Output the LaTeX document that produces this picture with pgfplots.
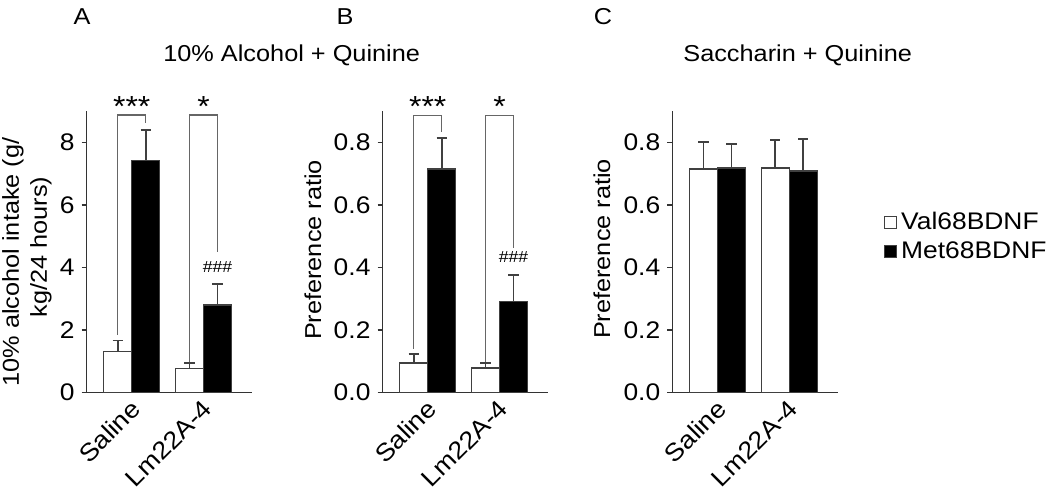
\documentclass[border=0pt]{standalone}
\usepackage{pgfplots}
\pgfplotsset{compat=1.18}
\usepackage{pgfplotstable}
\usepackage{fontspec}
\setmainfont{Liberation Sans}[FakeStretch=1.1]

% columns: x, mean, upper error
\pgfplotstableread{
x y e
-0.195 1.30 0.36
0.805 0.76 0.17
}\Awhite
\pgfplotstableread{
x y e
0.195 7.42 0.98
1.195 2.80 0.67
}\Ablack
\pgfplotstableread{
x y e
-0.195 0.093 0.029
0.805 0.077 0.016
}\Bwhite
\pgfplotstableread{
x y e
0.195 0.714 0.099
1.195 0.290 0.085
}\Bblack
\pgfplotstableread{
x y e
-0.195 0.714 0.086
0.805 0.717 0.090
}\Cwhite
\pgfplotstableread{
x y e
0.195 0.717 0.078
1.195 0.708 0.102
}\Cblack

\newcommand\tfont{\fontsize{11.5}{13}\selectfont}
\newcommand\kfont{\fontsize{12}{13}\selectfont}
\newcommand\xfont{\fontsize{12.3}{14}\selectfont}
\tikzset{brk/.style={black!60, line width=0.75pt}}

\pgfplotsset{
  panel/.style={
    scale only axis, width=82.75pt, height=140.625pt,
    anchor=south west,
    xmin=-0.63, xmax=1.676, ymin=0,
    axis x line*=bottom, axis y line*=left,
    axis line style={-, black!80, line width=0.75pt},
    xtick={0,1}, xticklabels={Saline,Lm22A-4},
    x tick style={draw=none},
    y tick style={black!80, line width=0.75pt},
    tick align=outside, major tick length=2.5pt,
    x tick label style={rotate=45, anchor=north east, font=\xfont, inner sep=1pt, yshift=1.5pt},
    y tick label style={font=\kfont},
    /pgf/number format/assume math mode=true,
    clip=false,
  },
  barbase/.style={ybar, bar shift=0pt, bar width=0.39, draw=black!75, line width=0.75pt,
    error bars/y dir=plus, error bars/y explicit,
    error bars/error bar style={black!75, line width=0.9pt},
    error bars/error mark options={rotate=90, black!75, mark size=2.6pt, line width=0.9pt}},
  wbar/.style={barbase, fill=white},
  kbar/.style={barbase, fill=black},
}

\begin{document}
\begin{tikzpicture}
\useasboundingbox (0,0) rectangle (525pt,249pt);

% Panel A
\begin{axis}[panel, at={(43.25pt,52.85pt)}, ymax=9, ytick={0,2,4,6,8}]
\addplot[wbar] table[x=x, y=y, y error=e] {\Awhite};
\addplot[kbar] table[x=x, y=y, y error=e] {\Ablack};
\draw[brk] (axis cs:-0.195,1.84) |- (axis cs:0.195,8.88) -- (axis cs:0.195,8.63);
\draw[brk] (axis cs:0.805,0.98) |- (axis cs:1.195,8.88) -- (axis cs:1.195,4.49);
\node[anchor=base, font=\fontsize{14.5}{15}\selectfont, inner sep=0pt] at (axis cs:0,8.81) {***};
\node[anchor=base, font=\fontsize{14.5}{15}\selectfont, inner sep=0pt] at (axis cs:1,8.81) {*};
\node[font=\fontsize{8}{9}\selectfont, inner sep=0pt] at (axis cs:1.195,4.02) {\#\#\#};
\end{axis}

% Panel B
\begin{axis}[panel, at={(191.25pt,52.85pt)}, ymax=0.9, ytick={0,0.2,0.4,0.6,0.8},
  yticklabel style={/pgf/number format/.cd, fixed, fixed zerofill, precision=1}]
\addplot[wbar] table[x=x, y=y, y error=e] {\Bwhite};
\addplot[kbar] table[x=x, y=y, y error=e] {\Bblack};
\draw[brk] (axis cs:-0.195,0.14) |- (axis cs:0.195,0.885) -- (axis cs:0.195,0.832);
\draw[brk] (axis cs:0.805,0.098) |- (axis cs:1.195,0.885) -- (axis cs:1.195,0.462);
\node[anchor=base, font=\fontsize{14.5}{15}\selectfont, inner sep=0pt] at (axis cs:0,0.881) {***};
\node[anchor=base, font=\fontsize{14.5}{15}\selectfont, inner sep=0pt] at (axis cs:1,0.881) {*};
\node[font=\fontsize{8}{9}\selectfont, inner sep=0pt] at (axis cs:1.195,0.432) {\#\#\#};
\end{axis}

% Panel C
\begin{axis}[panel, at={(336.15pt,52.85pt)}, ymax=0.9, ytick={0,0.2,0.4,0.6,0.8},
  yticklabel style={/pgf/number format/.cd, fixed, fixed zerofill, precision=1},
  legend style={draw=none, fill=none, at={(1.275,0.655)}, anchor=north west,
    font=\kfont, inner sep=0pt, row sep=0.5pt},
  legend cell align=left]
\addplot[wbar, legend image code/.code={\draw[fill=white, draw=black!75, line width=0.75pt] (0pt,-3pt) rectangle (6pt,3pt);}] table[x=x, y=y, y error=e] {\Cwhite};
\addlegendentry{Val68BDNF}
\addplot[kbar, legend image code/.code={\draw[fill=black, draw=black!75, line width=0.75pt] (0pt,-3pt) rectangle (6pt,3pt);}] table[x=x, y=y, y error=e] {\Cblack};
\addlegendentry{Met68BDNF}
\end{axis}

% panel letters and titles
\node[font=\tfont] at (41pt,240.5pt) {A};
\node[font=\tfont] at (172.5pt,240.5pt) {B};
\node[font=\tfont] at (301.5pt,240.5pt) {C};
\node[font=\tfont, anchor=base] at (145.85pt,218pt) {10\% Alcohol + Quinine};
\node[font=\tfont, anchor=base west, inner sep=0pt] at (341.5pt,218pt) {Saccharin + Quinine};

% y labels
\node[font=\tfont, rotate=90] at (6.5pt,118pt) {10\% alcohol intake (g/};
\node[font=\tfont, rotate=90] at (20.5pt,125.5pt) {kg/24 hours)};
\node[font=\tfont, rotate=90] at (156.5pt,124pt) {Preference ratio};
\node[font=\tfont, rotate=90] at (301pt,124.5pt) {Preference ratio};
\end{tikzpicture}
\end{document}
